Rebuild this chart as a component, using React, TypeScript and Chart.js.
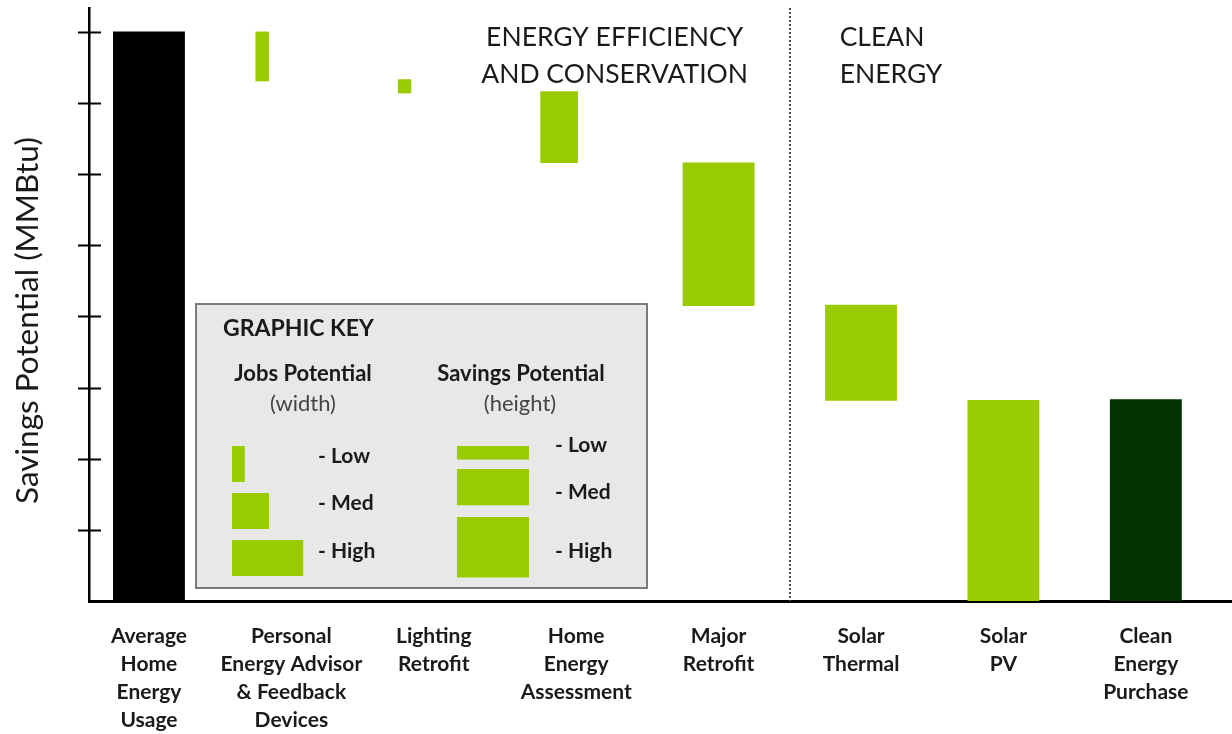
import { useEffect, useRef } from 'react';
import { Chart, registerables } from 'chart.js';

Chart.register(...registerables);

// ---------- data ----------
const categories: string[][] = [
  ['Average', 'Home', 'Energy', 'Usage'],
  ['Personal', 'Energy Advisor', '& Feedback', 'Devices'],
  ['Lighting', 'Retrofit'],
  ['Home', 'Energy', 'Assessment'],
  ['Major', 'Retrofit'],
  ['Solar', 'Thermal'],
  ['Solar', 'PV'],
  ['Clean', 'Energy', 'Purchase'],
];
const savingsTop = [8, 8, 7.33, 7.16, 6.16, 4.16, 2.82, 2.83];
const savingsBottom = [0, 7.31, 7.14, 6.16, 4.15, 2.82, 0, 0];
const jobsPotential = ['High', 'Low', 'Low', 'Med', 'High', 'High', 'High', 'High'];
const barColors = ['#000000', '#99CC00', '#99CC00', '#99CC00', '#99CC00', '#99CC00', '#99CC00', '#003300'];
const jobsLevels = ['Low', 'Med', 'High'];
const jobsWidth = [0.09, 0.26, 0.5];
const yAxisTitle = 'Savings Potential (MMBtu)';
const groupTitleLeft = ['ENERGY EFFICIENCY', 'AND CONSERVATION'];
const groupTitleRight = ['CLEAN', 'ENERGY'];
const keyTitle = 'GRAPHIC KEY';
const keyJobsTitle = ['Jobs Potential', '(width)'];
const keySavingsTitle = ['Savings Potential', '(height)'];
const keyLevelLabels = ['- Low', '- Med', '- High'];

const FONT = "Lato, 'Noto Sans', 'DejaVu Sans', sans-serif";
const GREEN = '#99CC00';
const TEXT = '#1a1a1a';

const decorPlugin = {
  id: 'decor',
  afterDatasetsDraw(chart: any) {
    const { ctx, chartArea, scales } = chart;
    const xs = scales.x;
    const ys = scales.y;
    ctx.save();

    // y tick marks crossing the axis
    ctx.strokeStyle = '#000';
    ctx.lineWidth = 2;
    ys.ticks.forEach((t: any) => {
      if (t.value > 0 && Number.isInteger(t.value)) {
        const y = Math.round(ys.getPixelForValue(t.value)) + 0.5;
        ctx.beginPath();
        ctx.moveTo(chartArea.left - 11, y);
        ctx.lineTo(chartArea.left + 12, y);
        ctx.stroke();
      }
    });

    // dotted divider between the two groups
    const dx = Math.round(xs.getPixelForValue(4.5));
    ctx.strokeStyle = '#444';
    ctx.lineWidth = 2;
    ctx.setLineDash([2, 2]);
    ctx.beginPath();
    ctx.moveTo(dx, chartArea.top);
    ctx.lineTo(dx, chartArea.bottom);
    ctx.stroke();
    ctx.setLineDash([]);

    // group titles
    ctx.fillStyle = TEXT;
    ctx.font = `400 26.5px ${FONT}`;
    ctx.textBaseline = 'middle';
    ctx.textAlign = 'center';
    const gx1 = xs.getPixelForValue(3.27);
    groupTitleLeft.forEach((s, i) => ctx.fillText(s, gx1, 37 + i * 37));
    ctx.textAlign = 'left';
    const gx2 = xs.getPixelForValue(4.85);
    groupTitleRight.forEach((s, i) => ctx.fillText(s, gx2, 37 + i * 37));

    // y axis title
    ctx.save();
    ctx.translate(28, (chartArea.top + chartArea.bottom) / 2 + 16);
    ctx.rotate(-Math.PI / 2);
    ctx.textAlign = 'center';
    ctx.textBaseline = 'middle';
    ctx.font = `400 31.5px ${FONT}`;
    ctx.fillStyle = TEXT;
    ctx.fillText(yAxisTitle, 0, 0);
    ctx.restore();

    // graphic key
    const bx = 196, by = 304, bw = 451, bh = 284;
    ctx.fillStyle = '#e8e8e8';
    ctx.fillRect(bx, by, bw, bh);
    ctx.strokeStyle = '#7a7a7a';
    ctx.lineWidth = 2;
    ctx.strokeRect(bx, by, bw, bh);

    ctx.fillStyle = TEXT;
    ctx.textAlign = 'left';
    ctx.font = `700 23px ${FONT}`;
    ctx.fillText(keyTitle, 223, 329);

    ctx.textAlign = 'center';
    ctx.font = `700 22px ${FONT}`;
    ctx.fillText(keyJobsTitle[0], 303, 374);
    ctx.fillText(keySavingsTitle[0], 521, 374);
    ctx.font = `400 22px ${FONT}`;
    ctx.fillStyle = '#444';
    ctx.fillText(keyJobsTitle[1], 303, 404);
    ctx.fillText(keySavingsTitle[1], 520, 404);

    const unit = xs.getPixelForValue(1) - xs.getPixelForValue(0);
    const hUnit = ys.getPixelForValue(0) - ys.getPixelForValue(1);
    ctx.fillStyle = GREEN;
    // jobs (width) swatches
    const jobY = [446, 493, 540];
    jobsWidth.forEach((w, i) => ctx.fillRect(232, jobY[i], w * unit, 36));
    // savings (height) swatches
    const savY = [446, 469, 517];
    const savH = [0.19, 0.51, 0.85];
    savH.forEach((h, i) => ctx.fillRect(457, savY[i], 72, h * hUnit));

    ctx.fillStyle = TEXT;
    ctx.textAlign = 'left';
    ctx.font = `700 21px ${FONT}`;
    const jobLY = [456, 503, 551];
    const savLY = [445, 492, 551];
    keyLevelLabels.forEach((s, i) => {
      ctx.fillText(s, 318, jobLY[i]);
      ctx.fillText(s, 555, savLY[i]);
    });

    ctx.restore();
  },
};

export default function App() {
  const ref = useRef<HTMLCanvasElement | null>(null);

  useEffect(() => {
    if (!ref.current) return;
    const datasets = jobsLevels.map((level, li) => {
      const idx = categories.map((_, i) => i).filter((i) => jobsPotential[i] === level);
      return {
        label: level,
        level: li,
        data: idx.map((i) => ({ x: i - jobsWidth[2] / 2 + jobsWidth[li] / 2, y: [savingsBottom[i], savingsTop[i]] })),
        backgroundColor: idx.map((i) => barColors[i]),
        borderWidth: 0,
        grouped: false,
        barThickness: 10,
      } as any;
    });

    const chart = new Chart(ref.current, {
      type: 'bar',
      data: { datasets },
      options: {
        animation: false,
        responsive: false,
        maintainAspectRatio: false,
        layout: { padding: { left: 89, top: 8, right: 0, bottom: -21 } },
        plugins: { legend: { display: false }, tooltip: { enabled: false }, title: { display: false } },
        scales: {
          x: {
            type: 'linear',
            offset: false,
            min: -0.421,
            max: 7.605,
            afterBuildTicks: (axis: any) => {
              axis.ticks = categories.map((_, i) => ({ value: i }));
            },
            ticks: {
              autoSkip: false,
              maxRotation: 0,
              minRotation: 0,
              padding: 21,
              color: TEXT,
              font: { family: FONT, size: 21, weight: 'bold', lineHeight: 28 / 21 },
              callback: (v: any) => categories[v as number] ?? '',
            },
            grid: { display: false, drawTicks: false },
            border: { display: true, color: '#000', width: 3 },
          },
          y: {
            min: 0,
            max: 8.336,
            ticks: { display: false, stepSize: 1 },
            grid: { display: false, drawTicks: false },
            border: { display: true, color: '#000', width: 2.5 },
          },
        },
      },
      plugins: [decorPlugin],
    });

    const xs: any = chart.scales.x;
    const unit = xs.getPixelForValue(1) - xs.getPixelForValue(0);
    chart.data.datasets.forEach((ds: any) => {
      ds.barThickness = jobsWidth[ds.level] * unit;
    });
    chart.update();

    return () => chart.destroy();
  }, []);

  return (
    <div style={{ position: 'absolute', left: 0, top: 0, width: 1232, height: 734, background: '#fff' }}>
      <canvas ref={ref} width={1232} height={734} style={{ width: 1232, height: 734, display: 'block' }} />
    </div>
  );
}
